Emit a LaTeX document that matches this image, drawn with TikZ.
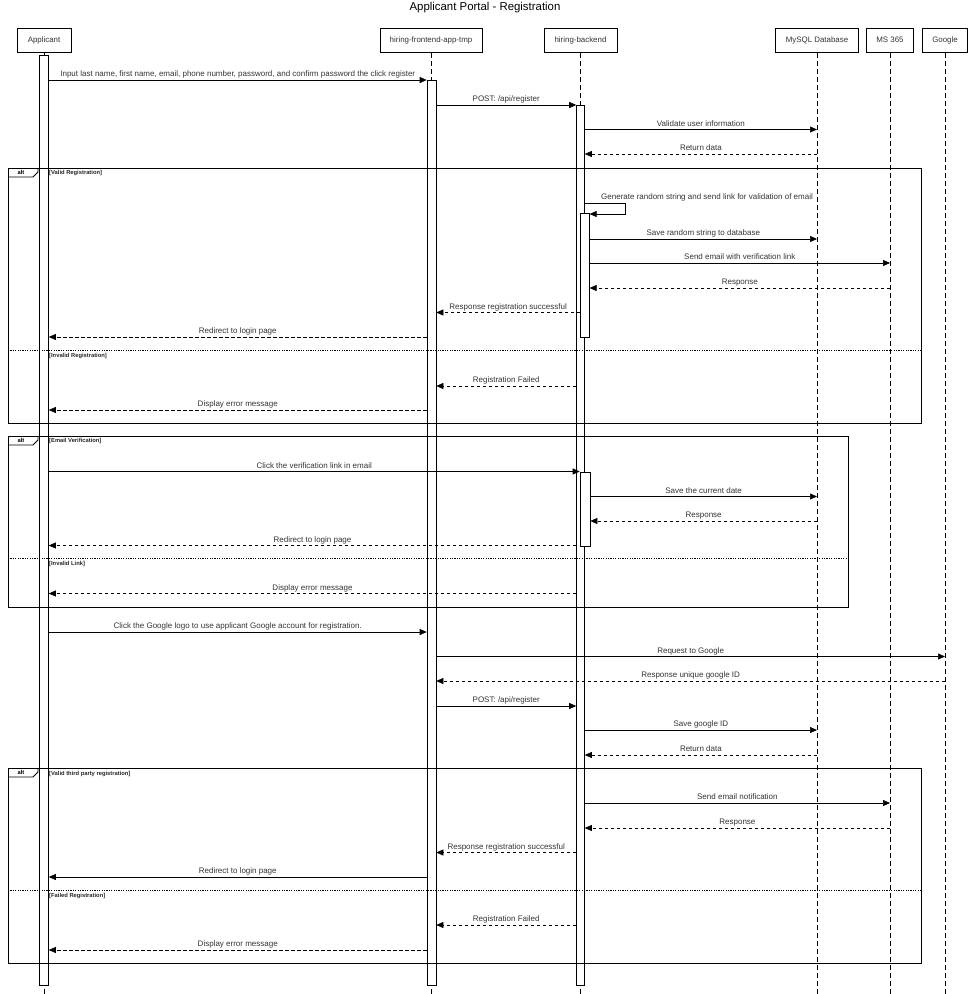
\documentclass[tikz,border=0pt]{standalone}
\usepackage{fontspec}
\setmainfont{Liberation Sans}
\usetikzlibrary{positioning,arrows.meta}

\begin{document}
\begin{tikzpicture}[x=1pt,y=-1pt,
    head/.style={rectangle, draw, line width=1pt, minimum height=24pt, inner sep=0pt, text=black!80, font=\fontsize{7.9}{9}\selectfont},
    bar/.style={rectangle, draw, fill=white, line width=0.6pt, minimum width=9pt, inner sep=0pt, anchor=north},
    lifeline/.style={dash pattern=on 5pt off 3pt, line width=0.6pt},
    msg/.style={-{Triangle[length=7pt,width=6pt]}, line width=0.6pt},
    reply/.style={msg, dash pattern=on 3.5pt off 2.5pt},
    lbl/.style={anchor=base, yshift=3.5pt, inner sep=0pt, text=black!80, font=\fontsize{8}{9}\selectfont},
    frame/.style={draw, line width=1pt},
    divider/.style={dash pattern=on 1.2pt off 1.2pt, line width=0.8pt},
    guard/.style={anchor=west, inner sep=0pt, text=black!85, font=\fontsize{5.8}{6}\selectfont\bfseries}
]
\useasboundingbox (0,0) rectangle (971,994);

\node[font=\fontsize{11.4}{13}\selectfont] (title) at (485,8) {Applicant Portal - Registration};

% participants
\node[head, minimum width=54pt] (app) at (44,40) {Applicant};
\node[head, minimum width=102pt] (front) at (431,40) {hiring-frontend-app-tmp};
\node[head, minimum width=73pt] (back) at (580.5,40) {hiring-backend};
\node[head, minimum width=83pt] (db) at (817,40) {MySQL Database};
\node[head, minimum width=47pt] (ms) at (890,40) {MS 365};
\node[head, minimum width=45pt] (ggl) at (945,40) {Google};

\foreach \p in {app,front,back,db,ms,ggl}
  \draw[lifeline] (\p.south) -- (\p.south |- 0,994);

% activations
\node[bar, minimum height=930pt] (appbar) at (44,55) {};
\node[bar, minimum height=905pt] (frontbar) at (431.5,80) {};
\node[bar, minimum height=880pt, minimum width=8pt] (backbar) at (580.5,105) {};
\node[bar, minimum height=124pt] (genbar) at (584.8,213) {};
\node[bar, minimum height=74pt, minimum width=10pt] (verbar) at (585,471.5) {};

% alt frames
\foreach \top/\right/\bottom/\split in {168/921/423/350.5, 436/848/607/558, 768/921/963/890.5} {
  \draw[frame] (8,\top) rectangle (\right,\bottom);
  \draw[line width=0.8pt] (8,\top+9) -- (33,\top+9) -- (38,\top+4) -- (38,\top);
  \node[inner sep=0pt, font=\fontsize{5.8}{6}\selectfont\bfseries] (alt-\top) at (21,\top+4.5) {alt};
  \draw[divider] (8,\split) -- (\right,\split);
}
\node[guard] (g1) at (49,173) {[Valid Registration]};
\node[guard] (g2) at (49,356) {[Invalid Registration]};
\node[guard] (g3) at (49,441) {[Email Verification]};
\node[guard] (g4) at (49,564) {[Invalid Link]};
\node[guard] (g5) at (49,774) {[Valid third party registration]};
\node[guard] (g6) at (49,896) {[Failed Registration]};

% registration
\draw[msg] (appbar.east |- 0,80) -- node[lbl] {Input last name, first name, email, phone number, password, and confirm password the click register} (frontbar.west |- 0,80);
\draw[msg] (frontbar.east |- 0,105) -- node[lbl] {POST: /api/register} (backbar.west |- 0,105);
\draw[msg] (backbar.east |- 0,129.5) -- node[lbl] {Validate user information} (db |- 0,129.5);
\draw[reply] (db |- 0,154) -- node[lbl] {Return data} (backbar.east |- 0,154);

\draw[msg] (backbar.east |- 0,203) -- (625,203) -- (625,214) -- (genbar.east |- 0,214);
\node[lbl, anchor=base west] (genlbl) at (601,203) {Generate random string and send link for validation of email};
\draw[msg] (genbar.east |- 0,239) -- node[lbl] {Save random string to database} (db |- 0,239);
\draw[msg] (genbar.east |- 0,263) -- node[lbl] {Send email with verification link} (ms |- 0,263);
\draw[reply] (ms |- 0,288) -- node[lbl] {Response} (genbar.east |- 0,288);
\draw[reply] (genbar.west |- 0,312.5) -- node[lbl] {Response registration successful} (frontbar.east |- 0,312.5);
\draw[reply] (frontbar.west |- 0,337) -- node[lbl] {Redirect to login page} (appbar.east |- 0,337);

\draw[reply] (backbar.west |- 0,386) -- node[lbl] {Registration Failed} (frontbar.east |- 0,386);
\draw[reply] (frontbar.west |- 0,410) -- node[lbl] {Display error message} (appbar.east |- 0,410);

% email verification
\draw[msg] (appbar.east |- 0,471.5) -- node[lbl] {Click the verification link in email} (verbar.west |- 0,471.5);
\draw[msg] (verbar.east |- 0,496.5) -- node[lbl] {Save the current date} (db |- 0,496.5);
\draw[reply] (db |- 0,521) -- node[lbl] {Response} (verbar.east |- 0,521);
\draw[reply] (backbar.west |- 0,545.5) -- node[lbl] {Redirect to login page} (appbar.east |- 0,545.5);
\draw[reply] (backbar.west |- 0,593.5) -- node[lbl] {Display error message} (appbar.east |- 0,593.5);

% google registration
\draw[msg] (appbar.east |- 0,632) -- node[lbl] {Click the Google logo to use applicant Google account for registration.} (frontbar.west |- 0,632);
\draw[msg] (frontbar.east |- 0,656.5) -- node[lbl] {Request to Google} (ggl |- 0,656.5);
\draw[reply] (ggl |- 0,681) -- node[lbl] {Response unique google ID} (frontbar.east |- 0,681);
\draw[msg] (frontbar.east |- 0,706) -- node[lbl] {POST: /api/register} (backbar.west |- 0,706);
\draw[msg] (backbar.east |- 0,730) -- node[lbl] {Save google ID} (db |- 0,730);
\draw[reply] (db |- 0,755) -- node[lbl] {Return data} (backbar.east |- 0,755);

\draw[msg] (backbar.east |- 0,803) -- node[lbl] {Send email notification} (ms |- 0,803);
\draw[reply] (ms |- 0,828) -- node[lbl] {Response} (backbar.east |- 0,828);
\draw[reply] (backbar.west |- 0,852.5) -- node[lbl] {Response registration successful} (frontbar.east |- 0,852.5);
\draw[msg] (frontbar.west |- 0,877) -- node[lbl] {Redirect to login page} (appbar.east |- 0,877);

\draw[reply] (backbar.west |- 0,925) -- node[lbl] {Registration Failed} (frontbar.east |- 0,925);
\draw[reply] (frontbar.west |- 0,950) -- node[lbl] {Display error message} (appbar.east |- 0,950);

\end{tikzpicture}
\end{document}
